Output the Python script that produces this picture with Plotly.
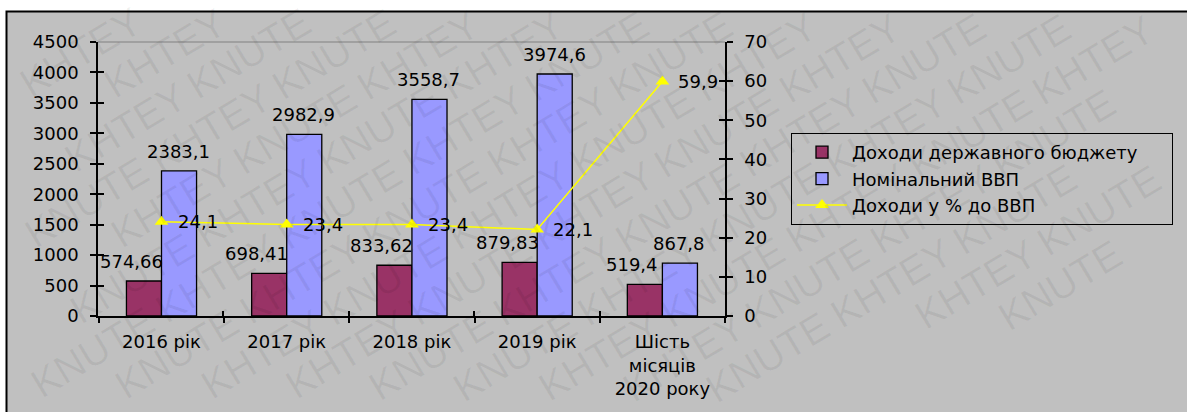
import math
import plotly.graph_objects as go

# Data
categories = ["2016 рік", "2017 рік", "2018 рік", "2019 рік", "Шість<br>місяців<br>2020 року"]
budget_revenue = [574.66, 698.41, 833.62, 879.83, 519.4]
nominal_gdp = [2383.1, 2982.9, 3558.7, 3974.6, 867.8]
revenue_pct_gdp = [24.1, 23.4, 23.4, 22.1, 59.9]

budget_labels = ["574,66", "698,41", "833,62", "879,83", "519,4"]
gdp_labels = ["2383,1", "2982,9", "3558,7", "3974,6", "867,8"]
pct_labels = ["24,1", "23,4", "23,4", "22,1", "59,9"]

series_names = ["Доходи державного бюджету", "Номінальний ВВП", "Доходи у % до ВВП"]
watermark_words = ["KHTEY", "KNUTE"]

FONT = "DejaVu Sans, Verdana, sans-serif"
WM_FONT = "Liberation Sans, Arial, sans-serif"
FS = 18
MAROON = "#993366"
PERIWINKLE = "#9999FF"
YELLOW = "#FFFF00"
PANEL = "#C0C0C0"

W, H = 1187, 412
L, R, T, B = 98, 725, 42, 316  # plot-area pixel edges


def px_to_paper(px, py):
    return (px - L) / (R - L), (B - py) / (B - T)


fig = go.Figure()

fig.add_trace(go.Bar(
    x=categories, y=budget_revenue, name=series_names[0] + "\u00a0" * 5,
    marker=dict(color=MAROON, line=dict(color="black", width=1.3)),
    legendgroup="a", yaxis="y", offsetgroup="a",
))
fig.add_trace(go.Bar(
    x=categories, y=nominal_gdp, name=series_names[1],
    marker=dict(color=PERIWINKLE, line=dict(color="black", width=1.3)),
    legendgroup="b", yaxis="y", offsetgroup="b",
))
fig.add_trace(go.Scatter(
    x=categories, y=revenue_pct_gdp, name=series_names[2],
    mode="lines+markers", yaxis="y2",
    line=dict(color=YELLOW, width=1.5),
    marker=dict(symbol="triangle-up", size=12, color=YELLOW),
    legendgroup="c",
))

annotations = []

# diagonal background watermark, tiled word by word inside the figure
angle = 31.0
ca, sa = math.cos(math.radians(angle)), math.sin(math.radians(angle))
wm_size = 40
word_w, word_h = 3.35 * wm_size, 1.15 * wm_size
ex = word_w / 2 * ca + word_h / 2 * sa
ey = word_w / 2 * sa + word_h / 2 * ca
pitch_u, pitch_v = word_w + 10, 44
ox, oy = 593, 206
for r in range(-16, 17):
    for c in range(-16, 17):
        du = c * pitch_u + (r % 2) * pitch_u / 2
        dv = r * pitch_v
        cx = ox + du * ca + dv * sa
        cy = oy - du * sa + dv * ca
        if ex - 10 <= cx <= W - ex and ey - 12 <= cy <= H - ey:
            xp, yp = px_to_paper(cx, cy)
            annotations.append(dict(
                x=xp, y=yp, xref="paper", yref="paper",
                text=watermark_words[(c + r) % 2], showarrow=False,
                textangle=-angle, xanchor="center", yanchor="middle",
                font=dict(family=WM_FONT, size=wm_size, color="rgba(0,0,0,0.06)")))

# value labels
for c, v, t in zip(categories, budget_revenue, budget_labels):
    annotations.append(dict(x=c, y=v, xref="x", yref="y", text=t, showarrow=False,
                            xanchor="center", yanchor="bottom", xshift=-30, yshift=7,
                            font=dict(family=FONT, size=FS, color="black")))
for c, v, t in zip(categories, nominal_gdp, gdp_labels):
    annotations.append(dict(x=c, y=v, xref="x", yref="y", text=t, showarrow=False,
                            xanchor="center", yanchor="bottom", xshift=17, yshift=7,
                            font=dict(family=FONT, size=FS, color="black")))
for c, v, t in zip(categories, revenue_pct_gdp, pct_labels):
    annotations.append(dict(x=c, y=v, xref="x", yref="y2", text=t, showarrow=False,
                            xanchor="left", yanchor="middle", xshift=14, yshift=0,
                            font=dict(family=FONT, size=FS, color="black")))

x0, y0 = px_to_paper(6.5, 11.5)
x1, y1 = px_to_paper(W + 20, H + 20)

shapes = [
    # chart panel with frame
    dict(type="rect", xref="paper", yref="paper", x0=x0, y0=y0, x1=x1, y1=y1,
         fillcolor=PANEL, line=dict(color="black", width=2), layer="below"),
    # top edge of the plot area
    dict(type="line", xref="paper", yref="paper", x0=0, x1=1, y0=1, y1=1,
         line=dict(color="#808080", width=1), layer="below"),
]

lx, ly = px_to_paper(791, 133)

axis_common = dict(showgrid=False, zeroline=False, linecolor="black", linewidth=1.5,
                   tickcolor="black", tickwidth=1.5,
                   tickfont=dict(family=FONT, size=FS, color="black"))

fig.update_layout(
    width=W, height=H,
    margin=dict(l=L, r=W - R, t=T, b=H - B, autoexpand=False),
    paper_bgcolor="white", plot_bgcolor="rgba(0,0,0,0)",
    barmode="group", bargap=0.44, bargroupgap=0,
    font=dict(family=FONT, size=FS, color="black"),
    xaxis=dict(**axis_common, type="category", tickson="boundaries",
               ticks="outside", ticklen=5, showline=True, ticklabelstandoff=9),
    xaxis2=dict(overlaying="x", anchor="y", type="category", tickson="boundaries",
                ticks="inside", ticklen=5, tickcolor="black", tickwidth=1.5,
                showticklabels=False, showgrid=False, zeroline=False,
                showline=False, categoryorder="array", categoryarray=categories,
                range=[-0.5, 4.5]),
    yaxis=dict(**axis_common, range=[0, 4500], dtick=500, ticks="outside", ticklen=6,
               showline=True, ticklabelstandoff=8),
    yaxis2=dict(**axis_common, range=[0, 70], dtick=10, ticks="outside", ticklen=6,
                showline=True, overlaying="y", side="right", anchor="x",
                ticklabelstandoff=8),
    yaxis3=dict(range=[0, 4500], dtick=500, ticks="inside", ticklen=6, tickcolor="black",
                tickwidth=1.5, showticklabels=False, showgrid=False, zeroline=False,
                overlaying="y", anchor="x", side="left"),
    yaxis4=dict(range=[0, 70], dtick=10, ticks="inside", ticklen=6, tickcolor="black",
                tickwidth=1.5, showticklabels=False, showgrid=False, zeroline=False,
                overlaying="y", anchor="x", side="right"),
    legend=dict(x=lx, y=ly, xanchor="left", yanchor="top",
                bgcolor=PANEL, bordercolor="black", borderwidth=1,
                font=dict(family=FONT, size=FS, color="black"),
                itemwidth=50, tracegroupgap=3, traceorder="normal"),
    shapes=shapes,
    annotations=annotations,
    showlegend=True,
)

# invisible helpers so the overlay tick axes are drawn
fig.add_trace(go.Scatter(x=categories, y=[None] * 5, xaxis="x2", yaxis="y3",
                         showlegend=False, hoverinfo="skip"))
fig.add_trace(go.Scatter(x=categories, y=[None] * 5, xaxis="x2", yaxis="y4",
                         showlegend=False, hoverinfo="skip"))

fig.write_html("out.html")
